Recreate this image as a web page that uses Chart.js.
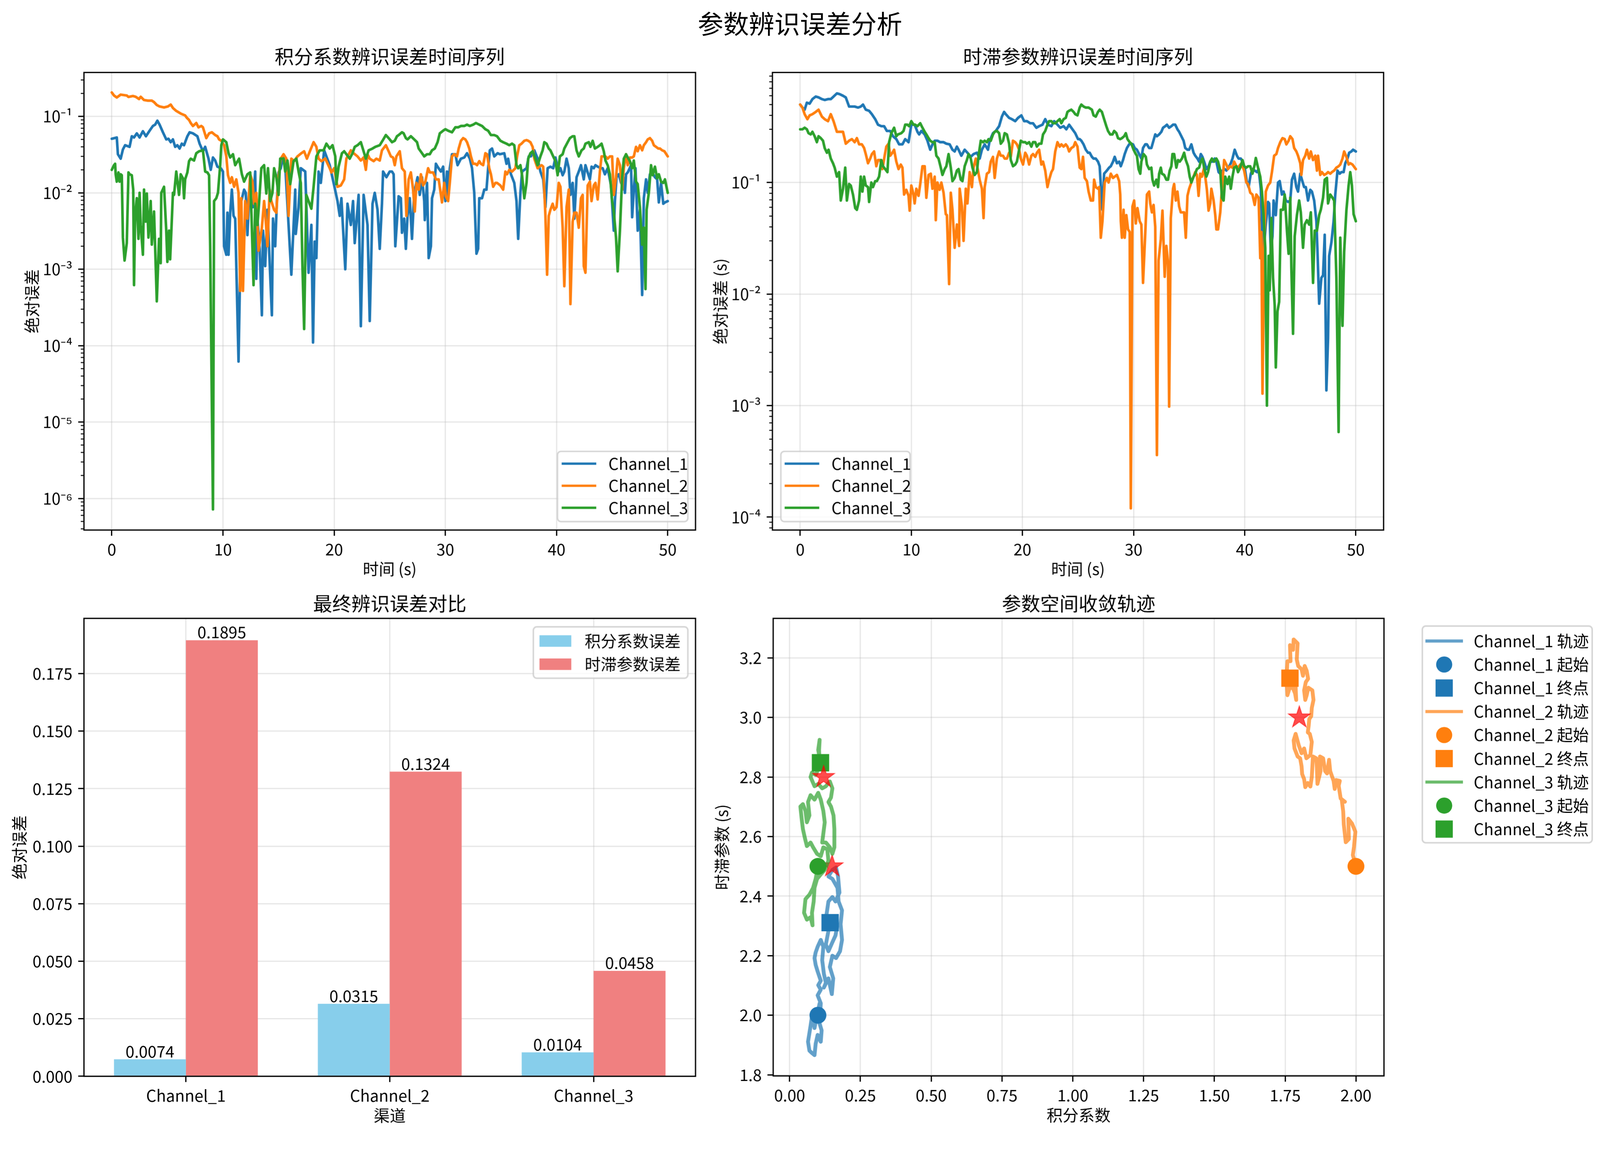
<!DOCTYPE html>
<html>
<head>
<meta charset="utf-8">
<script src="https://cdn.jsdelivr.net/npm/chart.js@4.4.0/dist/chart.umd.min.js"></script>
<style>
html, body { margin: 0; padding: 0; background: #fff; overflow: hidden; }
body { font-family: 'Noto Sans CJK SC', sans-serif; }
#page { position: absolute; left: 0; top: 0; width: 4174px; height: 2954px; transform-origin: 0 0; background: #fff; }
canvas { position: absolute; }
#suptitle { position: absolute; left: 0; top: 19px; width: 4174px; text-align: center; font-size: 66.7px; line-height: 80px; color: #000; }
</style>
</head>
<body>
<div id="page">
<div id="suptitle">参数辨识误差分析</div>
<canvas id="ki" width="1850" height="1412" style="left:0;top:100px;width:1850px;height:1412px"></canvas>
<canvas id="tau" width="2324" height="1412" style="left:1850px;top:100px;width:2324px;height:1412px"></canvas>
<canvas id="bars" width="1850" height="1413" style="left:0;top:1525px;width:1850px;height:1413px"></canvas>
<canvas id="traj" width="2324" height="1412" style="left:1850px;top:1525px;width:2324px;height:1412px"></canvas>
</div>
<script>
const CHANNELS = ['Channel_1', 'Channel_2', 'Channel_3'];
const COLORS = ['#1f77b4', '#ff7f0e', '#2ca02c'];
const TRAJ_COLORS = ['rgba(31,119,180,0.7)', 'rgba(255,127,14,0.7)', 'rgba(44,160,44,0.7)'];
const GRID = 'rgba(176,176,176,0.3)';

// tick values
const timeTicks = [0, 10, 20, 30, 40, 50];
const kiTicks = [0, 0.25, 0.5, 0.75, 1, 1.25, 1.5, 1.75, 2];
const tauTicks = [1.8, 2.0, 2.2, 2.4, 2.6, 2.8, 3.0, 3.2];
const barTicks = [0, 0.025, 0.05, 0.075, 0.1, 0.125, 0.15, 0.175];

// ki identification error, [time s, abs error]
const kiErrCh1 = [[0,0.051],[0.45,0.053],[0.55,0.032],[0.8,0.028],[1.0,0.037],[1.2,0.042],[1.6,0.040],[1.8,0.055],[2.0,0.053],[2.25,0.060],[2.5,0.053],[2.8,0.064],[3.07,0.055],[3.4,0.065],[3.7,0.075],[3.9,0.078],[4.1,0.088],[4.3,0.078],[4.6,0.062],[4.9,0.050],[5.1,0.051],[5.3,0.046],[5.5,0.050],[5.7,0.040],[5.9,0.042],[6.1,0.038],[6.3,0.044],[6.5,0.042],[6.8,0.055],[7.0,0.062],[7.3,0.060],[7.7,0.055],[7.9,0.044],[8.2,0.035],[8.4,0.040],[8.7,0.028],[8.9,0.020],[9.1,0.029],[9.3,0.0265],[9.5,0.022],[9.8,0.021],[10.0,0.019],[10.1,0.0020],[10.3,0.00155],[10.4,0.0055],[10.5,0.00155],[10.65,0.0055],[10.8,0.011],[10.95,0.0050],[11.1,0.0046],[11.4,0.000062],[11.65,0.0078],[11.9,0.011],[12.05,0.010],[12.2,0.0028],[12.35,0.0082],[12.7,0.0065],[12.9,0.019],[13.0,0.00075],[13.1,0.0046],[13.3,0.00185],[13.5,0.00025],[13.6,0.0032],[13.8,0.0011],[14.0,0.0060],[14.4,0.00025],[14.5,0.0046],[14.7,0.0020],[14.85,0.0078],[15.0,0.0185],[15.2,0.021],[15.4,0.030],[15.6,0.023],[16.15,0.00085],[16.5,0.011],[16.55,0.0029],[16.8,0.0065],[17.0,0.021],[17.4,0.019],[17.7,0.00090],[17.95,0.0038],[18.1,0.00011],[18.25,0.0023],[18.4,0.0014],[18.6,0.019],[18.8,0.0135],[19.1,0.036],[19.3,0.030],[19.6,0.023],[20.0,0.0125],[20.3,0.0078],[20.5,0.0050],[20.65,0.0085],[21.0,0.0010],[21.2,0.0072],[21.5,0.0038],[21.7,0.0078],[21.85,0.0022],[22.2,0.0094],[22.4,0.00018],[22.65,0.0094],[23.0,0.0038],[23.2,0.00021],[23.45,0.0072],[23.65,0.010],[23.9,0.0060],[24.1,0.00185],[24.3,0.0072],[24.4,0.019],[24.7,0.016],[25.0,0.019],[25.2,0.019],[25.35,0.0175],[25.5,0.0020],[25.8,0.0090],[26.0,0.0085],[26.1,0.0030],[26.3,0.0046],[26.45,0.00185],[26.6,0.0050],[26.8,0.0085],[27.0,0.0025],[27.2,0.010],[27.5,0.016],[27.7,0.0094],[27.9,0.016],[28.1,0.0078],[28.15,0.0044],[28.35,0.0135],[28.5,0.0014],[28.7,0.0020],[28.8,0.0085],[29.0,0.011],[29.15,0.024],[29.3,0.022],[29.6,0.019],[29.8,0.022],[30.0,0.0078],[30.15,0.019],[30.2,0.0085],[30.4,0.021],[30.6,0.032],[30.9,0.032],[31.1,0.023],[31.4,0.028],[31.7,0.029],[31.95,0.033],[32.2,0.028],[32.4,0.021],[32.6,0.010],[32.8,0.0016],[32.95,0.00185],[33.05,0.0085],[33.3,0.0085],[33.5,0.011],[33.7,0.011],[33.85,0.021],[34.0,0.036],[34.2,0.038],[34.4,0.030],[34.7,0.033],[34.9,0.032],[35.3,0.033],[35.5,0.024],[35.65,0.028],[35.9,0.0175],[36.2,0.0135],[36.4,0.0078],[36.55,0.0025],[36.75,0.010],[36.9,0.019],[37.3,0.021],[37.5,0.030],[37.7,0.030],[38.0,0.036],[38.3,0.028],[38.55,0.019],[38.8,0.015],[39.0,0.0065],[39.2,0.021],[39.45,0.022],[39.7,0.021],[39.9,0.029],[40.2,0.019],[40.35,0.021],[40.55,0.017],[40.7,0.019],[40.9,0.028],[41.1,0.021],[41.25,0.0094],[41.45,0.0135],[41.6,0.0046],[41.8,0.016],[42.0,0.019],[42.2,0.023],[42.45,0.015],[42.6,0.023],[42.8,0.0185],[43.0,0.015],[43.15,0.022],[43.35,0.021],[43.5,0.023],[43.7,0.022],[44.0,0.021],[44.15,0.021],[44.35,0.0175],[44.6,0.021],[44.9,0.0125],[45.15,0.0032],[45.25,0.0078],[45.4,0.016],[45.6,0.0175],[45.8,0.0135],[45.95,0.0185],[46.15,0.010],[46.25,0.0175],[46.4,0.0185],[46.7,0.023],[46.8,0.0048],[46.95,0.011],[47.1,0.021],[47.3,0.0032],[47.5,0.0060],[47.7,0.00046],[47.85,0.0085],[48.05,0.015],[48.2,0.010],[48.4,0.0175],[48.6,0.0185],[48.85,0.016],[49.05,0.015],[49.2,0.0075],[49.4,0.0135],[49.6,0.0072],[49.75,0.0075],[50.0,0.0078]];
const kiErrCh2 = [[0,0.206],[0.2,0.188],[0.45,0.177],[0.8,0.193],[1.35,0.188],[1.5,0.180],[1.9,0.185],[2.15,0.181],[2.45,0.169],[2.6,0.181],[2.9,0.164],[3.25,0.161],[3.6,0.161],[3.8,0.154],[4.05,0.141],[4.3,0.135],[4.7,0.131],[5.05,0.135],[5.3,0.143],[5.5,0.129],[5.8,0.118],[6.2,0.109],[6.6,0.103],[6.75,0.096],[6.95,0.090],[7.1,0.082],[7.3,0.075],[7.6,0.082],[7.8,0.072],[8.05,0.075],[8.2,0.072],[8.5,0.052],[8.75,0.060],[9.0,0.062],[9.3,0.057],[9.5,0.055],[9.65,0.050],[9.85,0.048],[10.1,0.042],[10.3,0.030],[10.45,0.017],[10.65,0.0135],[10.8,0.016],[11.0,0.012],[11.2,0.015],[11.4,0.010],[11.55,0.00052],[11.65,0.0085],[11.8,0.00052],[12.0,0.0078],[12.2,0.0046],[12.45,0.0175],[12.65,0.014],[12.8,0.0072],[13.0,0.010],[13.2,0.00175],[13.5,0.0035],[13.7,0.0078],[13.8,0.0055],[14.0,0.0020],[14.2,0.011],[14.35,0.0078],[14.6,0.0060],[14.8,0.0055],[15.0,0.016],[15.2,0.028],[15.45,0.032],[15.7,0.028],[15.9,0.0050],[16.15,0.028],[16.4,0.026],[16.7,0.030],[17.05,0.033],[17.3,0.035],[17.55,0.028],[17.85,0.036],[18.15,0.046],[18.4,0.040],[18.6,0.028],[18.85,0.026],[19.2,0.028],[19.6,0.021],[19.75,0.0185],[20.0,0.021],[20.3,0.012],[20.6,0.0125],[20.9,0.015],[21.1,0.028],[21.5,0.036],[21.75,0.033],[22.1,0.030],[22.4,0.0265],[22.65,0.029],[22.85,0.020],[23.0,0.032],[23.2,0.028],[23.55,0.026],[23.8,0.028],[24.1,0.0265],[24.3,0.036],[24.65,0.042],[24.9,0.035],[25.1,0.030],[25.3,0.029],[25.45,0.023],[25.6,0.030],[25.9,0.035],[26.1,0.021],[26.35,0.019],[26.5,0.0050],[26.7,0.015],[26.9,0.0185],[27.1,0.011],[27.25,0.0057],[27.4,0.0135],[27.6,0.011],[27.8,0.0175],[28.0,0.0125],[28.2,0.014],[28.45,0.021],[28.6,0.0185],[28.9,0.0185],[29.15,0.015],[29.4,0.015],[29.7,0.0075],[29.9,0.0135],[30.05,0.0090],[30.25,0.0078],[30.4,0.0135],[30.6,0.030],[30.8,0.032],[31.05,0.030],[31.2,0.038],[31.4,0.048],[31.6,0.052],[31.8,0.050],[31.95,0.046],[32.15,0.038],[32.3,0.030],[32.5,0.024],[32.7,0.024],[32.85,0.023],[33.05,0.026],[33.2,0.024],[33.4,0.023],[33.6,0.033],[33.75,0.032],[33.95,0.021],[34.1,0.0175],[34.3,0.012],[34.5,0.0135],[34.65,0.0135],[34.95,0.0125],[35.2,0.011],[35.4,0.019],[35.55,0.0175],[35.75,0.020],[36.0,0.019],[36.3,0.021],[36.45,0.030],[36.65,0.042],[36.85,0.044],[37.1,0.048],[37.3,0.049],[37.45,0.048],[37.65,0.046],[37.85,0.040],[38.0,0.028],[38.3,0.021],[38.45,0.022],[38.65,0.023],[38.8,0.022],[39.0,0.0050],[39.15,0.00085],[39.3,0.0050],[39.45,0.0060],[39.65,0.0072],[39.8,0.0060],[40.0,0.0065],[40.2,0.0135],[40.35,0.012],[40.55,0.0035],[40.7,0.00060],[40.9,0.0065],[41.1,0.011],[41.25,0.00035],[41.45,0.0042],[41.6,0.0055],[41.8,0.0055],[42.0,0.0035],[42.2,0.0085],[42.35,0.0094],[42.45,0.0011],[42.6,0.00090],[42.8,0.0125],[43.0,0.014],[43.15,0.0078],[43.35,0.0125],[43.5,0.0135],[43.7,0.0082],[43.9,0.019],[44.05,0.030],[44.25,0.030],[44.4,0.030],[44.6,0.028],[44.8,0.030],[45.0,0.030],[45.15,0.0094],[45.35,0.016],[45.5,0.028],[45.7,0.023],[45.9,0.011],[46.05,0.021],[46.25,0.032],[46.4,0.023],[46.6,0.029],[46.8,0.029],[46.95,0.030],[47.15,0.040],[47.3,0.035],[47.5,0.042],[47.7,0.036],[47.85,0.042],[48.05,0.046],[48.2,0.050],[48.4,0.052],[48.6,0.048],[48.75,0.042],[48.95,0.040],[49.15,0.038],[49.3,0.038],[49.5,0.036],[49.7,0.035],[50.0,0.030]];
const kiErrCh3 = [[0,0.020],[0.2,0.023],[0.3,0.024],[0.35,0.0175],[0.45,0.014],[0.6,0.0185],[0.7,0.014],[0.8,0.0175],[0.9,0.017],[1.0,0.0026],[1.15,0.0013],[1.35,0.0022],[1.5,0.0185],[1.6,0.0175],[1.8,0.017],[1.93,0.011],[2.0,0.00062],[2.1,0.0050],[2.25,0.0085],[2.4,0.0025],[2.5,0.010],[2.6,0.0038],[2.8,0.00155],[2.9,0.011],[3.05,0.0042],[3.15,0.0098],[3.3,0.0026],[3.5,0.0078],[3.6,0.0021],[3.8,0.0057],[4.05,0.00038],[4.25,0.0025],[4.4,0.0012],[4.45,0.010],[4.7,0.012],[4.9,0.0032],[5.0,0.00125],[5.15,0.0032],[5.25,0.00135],[5.4,0.0044],[5.5,0.010],[5.6,0.0094],[5.8,0.019],[6.05,0.0094],[6.2,0.0175],[6.4,0.0155],[6.5,0.0085],[6.6,0.015],[6.8,0.0185],[6.95,0.026],[7.1,0.028],[7.4,0.0265],[7.6,0.033],[7.85,0.035],[8.2,0.036],[8.4,0.019],[8.6,0.0185],[8.75,0.017],[8.85,0.0020],[9.1,7.2e-7],[9.2,0.0078],[9.4,0.0085],[9.55,0.010],[9.75,0.023],[9.85,0.042],[10.0,0.050],[10.3,0.046],[10.5,0.033],[10.65,0.029],[10.9,0.032],[11.1,0.023],[11.45,0.028],[11.7,0.0175],[11.9,0.014],[12.2,0.0175],[12.45,0.0185],[12.75,0.00062],[12.9,0.0072],[13.1,0.0038],[13.25,0.0075],[13.45,0.021],[13.7,0.023],[13.9,0.0098],[14.05,0.021],[14.25,0.0078],[14.45,0.010],[14.6,0.021],[14.8,0.016],[15.0,0.0094],[15.15,0.028],[15.45,0.028],[15.6,0.019],[15.8,0.0265],[16.05,0.013],[16.35,0.026],[16.6,0.028],[16.8,0.019],[17.0,0.0135],[17.15,0.0011],[17.3,0.000165],[17.5,0.0094],[17.95,0.0062],[18.15,0.012],[18.4,0.030],[18.7,0.036],[19.05,0.036],[19.3,0.044],[19.6,0.038],[19.85,0.042],[20.1,0.030],[20.2,0.013],[20.4,0.022],[20.7,0.033],[20.9,0.035],[21.1,0.032],[21.4,0.028],[21.65,0.033],[21.85,0.040],[22.1,0.042],[22.4,0.046],[22.65,0.035],[22.85,0.028],[23.1,0.036],[23.45,0.038],[23.7,0.040],[24.1,0.042],[24.35,0.048],[24.65,0.057],[24.9,0.052],[25.0,0.050],[25.2,0.046],[25.45,0.048],[25.65,0.055],[25.8,0.057],[26.1,0.062],[26.25,0.060],[26.45,0.052],[26.6,0.050],[26.9,0.055],[27.2,0.050],[27.45,0.046],[27.6,0.038],[27.9,0.033],[28.1,0.030],[28.35,0.032],[28.6,0.032],[28.8,0.036],[29.05,0.038],[29.3,0.046],[29.5,0.060],[29.8,0.065],[30.0,0.068],[30.25,0.065],[30.6,0.062],[30.9,0.072],[31.15,0.072],[31.4,0.075],[31.7,0.075],[31.95,0.078],[32.2,0.075],[32.5,0.078],[32.75,0.082],[33.05,0.078],[33.3,0.075],[33.6,0.068],[33.85,0.065],[34.1,0.057],[34.4,0.057],[34.65,0.055],[34.95,0.048],[35.2,0.046],[35.5,0.044],[35.75,0.042],[36.0,0.044],[36.2,0.042],[36.4,0.023],[36.55,0.021],[36.75,0.023],[36.9,0.017],[37.1,0.0085],[37.3,0.0135],[37.45,0.028],[37.65,0.033],[37.85,0.035],[38.1,0.028],[38.3,0.023],[38.55,0.030],[38.75,0.036],[38.9,0.046],[39.1,0.044],[39.3,0.038],[39.45,0.036],[39.7,0.030],[39.9,0.026],[40.1,0.017],[40.3,0.030],[40.55,0.032],[40.7,0.038],[41.0,0.046],[41.2,0.052],[41.45,0.055],[41.6,0.055],[41.8,0.036],[42.0,0.030],[42.25,0.036],[42.45,0.038],[42.6,0.044],[42.9,0.046],[43.05,0.040],[43.25,0.048],[43.45,0.038],[43.7,0.040],[43.9,0.042],[44.05,0.044],[44.25,0.035],[44.4,0.0265],[44.6,0.023],[44.8,0.0175],[45.0,0.0078],[45.15,0.0057],[45.35,0.0026],[45.5,0.00094],[45.7,0.0032],[45.9,0.016],[46.05,0.028],[46.25,0.032],[46.4,0.029],[46.6,0.026],[46.8,0.021],[46.95,0.0265],[47.15,0.014],[47.3,0.013],[47.5,0.0065],[47.7,0.0021],[47.85,0.0035],[48.0,0.00055],[48.1,0.0060],[48.3,0.010],[48.5,0.023],[48.65,0.017],[48.85,0.022],[49.05,0.0155],[49.2,0.0175],[49.4,0.014],[49.6,0.0135],[49.75,0.015],[50.0,0.010]];

// time delay identification error, [time s, abs error s]
const tauErrCh1 = [[0,0.50],[0.2,0.47],[0.4,0.45],[0.6,0.52],[0.85,0.51],[1.1,0.56],[1.4,0.59],[1.65,0.58],[1.95,0.56],[2.2,0.55],[2.5,0.56],[2.75,0.56],[3.0,0.59],[3.3,0.63],[3.55,0.62],[3.85,0.60],[4.1,0.58],[4.4,0.48],[4.65,0.48],[4.9,0.48],[5.2,0.47],[5.45,0.48],[5.65,0.50],[5.9,0.45],[6.2,0.44],[6.45,0.41],[6.75,0.37],[7.0,0.33],[7.3,0.32],[7.55,0.32],[7.8,0.29],[8.1,0.29],[8.35,0.26],[8.65,0.245],[8.9,0.22],[9.2,0.22],[9.45,0.245],[9.75,0.23],[10.0,0.33],[10.3,0.33],[10.55,0.285],[10.7,0.27],[10.9,0.29],[11.2,0.27],[11.45,0.237],[11.7,0.197],[11.9,0.22],[12.1,0.237],[12.35,0.237],[12.6,0.23],[12.9,0.23],[13.15,0.223],[13.45,0.22],[13.7,0.197],[13.9,0.19],[14.1,0.21],[14.25,0.197],[14.5,0.174],[14.8,0.197],[15.05,0.185],[15.35,0.17],[15.6,0.18],[15.9,0.185],[16.15,0.164],[16.35,0.197],[16.6,0.22],[16.9,0.197],[17.05,0.237],[17.35,0.277],[17.6,0.29],[17.9,0.32],[18.15,0.39],[18.35,0.43],[18.5,0.41],[18.8,0.38],[19.05,0.37],[19.35,0.355],[19.6,0.38],[19.9,0.40],[20.15,0.355],[20.4,0.355],[20.7,0.34],[20.95,0.34],[21.25,0.31],[21.5,0.32],[21.8,0.33],[22.05,0.37],[22.3,0.33],[22.6,0.32],[22.85,0.355],[23.15,0.33],[23.4,0.31],[23.7,0.32],[23.95,0.30],[24.2,0.33],[24.5,0.30],[24.75,0.277],[25.0,0.245],[25.15,0.245],[25.3,0.237],[25.5,0.22],[25.7,0.197],[25.9,0.185],[26.05,0.185],[26.25,0.17],[26.4,0.164],[26.6,0.164],[26.8,0.154],[26.95,0.14],[27.1,0.078],[27.2,0.057],[27.35,0.12],[27.6,0.128],[27.8,0.136],[27.95,0.14],[28.15,0.154],[28.3,0.17],[28.5,0.149],[28.7,0.154],[28.85,0.14],[29.05,0.159],[29.2,0.18],[29.4,0.204],[29.6,0.22],[29.75,0.223],[29.95,0.22],[30.1,0.204],[30.3,0.197],[30.5,0.18],[30.7,0.164],[30.85,0.204],[31.05,0.22],[31.2,0.22],[31.4,0.204],[31.6,0.204],[31.75,0.23],[31.95,0.27],[32.1,0.26],[32.3,0.27],[32.5,0.285],[32.65,0.31],[32.85,0.32],[33.0,0.33],[33.2,0.31],[33.4,0.32],[33.55,0.33],[33.75,0.33],[33.95,0.30],[34.1,0.285],[34.3,0.26],[34.5,0.237],[34.65,0.204],[34.85,0.197],[35.0,0.197],[35.2,0.22],[35.4,0.185],[35.55,0.174],[35.75,0.164],[35.9,0.154],[36.05,0.18],[36.2,0.17],[36.4,0.149],[36.55,0.132],[36.75,0.14],[36.9,0.154],[37.1,0.154],[37.3,0.164],[37.45,0.154],[37.65,0.124],[37.8,0.12],[38.0,0.128],[38.2,0.132],[38.35,0.128],[38.55,0.136],[38.75,0.149],[38.9,0.164],[39.1,0.197],[39.3,0.174],[39.45,0.164],[39.65,0.164],[39.8,0.154],[40.0,0.136],[40.2,0.100],[40.35,0.091],[40.55,0.12],[40.7,0.132],[40.9,0.128],[41.1,0.124],[41.25,0.132],[41.45,0.088],[41.6,0.029],[41.7,0.024],[41.9,0.042],[42.1,0.067],[42.2,0.065],[42.35,0.024],[42.5,0.033],[42.6,0.069],[42.8,0.051],[43.0,0.100],[43.15,0.103],[43.35,0.078],[43.5,0.083],[43.7,0.069],[43.9,0.067],[44.1,0.069],[44.25,0.106],[44.45,0.12],[44.65,0.091],[44.8,0.083],[45.0,0.12],[45.15,0.106],[45.35,0.091],[45.5,0.091],[45.7,0.069],[45.9,0.086],[46.05,0.083],[46.25,0.069],[46.45,0.045],[46.55,0.024],[46.7,0.0082],[46.9,0.014],[47.05,0.0147],[47.2,0.034],[47.35,0.00137],[47.5,0.0040],[47.6,0.022],[47.8,0.029],[48.0,0.045],[48.15,0.078],[48.35,0.128],[48.55,0.12],[48.7,0.124],[48.9,0.124],[49.05,0.149],[49.25,0.164],[49.4,0.185],[49.6,0.19],[49.75,0.197],[50.0,0.19]];
const tauErrCh2 = [[0,0.50],[0.2,0.47],[0.4,0.41],[0.65,0.37],[0.85,0.40],[1.1,0.41],[1.4,0.43],[1.65,0.45],[1.95,0.39],[2.2,0.37],[2.5,0.355],[2.75,0.41],[3.0,0.355],[3.3,0.285],[3.55,0.285],[3.85,0.285],[4.1,0.223],[4.4,0.237],[4.65,0.245],[4.9,0.23],[5.1,0.25],[5.3,0.22],[5.55,0.22],[5.75,0.204],[5.9,0.18],[6.1,0.149],[6.3,0.164],[6.45,0.18],[6.65,0.19],[6.85,0.14],[7.0,0.159],[7.2,0.159],[7.4,0.132],[7.6,0.174],[7.75,0.21],[7.95,0.223],[8.1,0.174],[8.3,0.185],[8.45,0.197],[8.65,0.154],[8.85,0.132],[9.05,0.145],[9.2,0.136],[9.35,0.078],[9.55,0.086],[9.75,0.076],[9.85,0.056],[10.0,0.094],[10.2,0.078],[10.3,0.065],[10.45,0.088],[10.65,0.076],[10.8,0.097],[11.0,0.14],[11.2,0.14],[11.35,0.073],[11.55,0.117],[11.75,0.12],[11.9,0.088],[12.1,0.113],[12.2,0.046],[12.35,0.100],[12.55,0.086],[12.7,0.100],[12.9,0.081],[13.1,0.052],[13.2,0.051],[13.4,0.0123],[13.55,0.081],[13.7,0.057],[13.9,0.026],[14.1,0.042],[14.3,0.027],[14.35,0.088],[14.55,0.061],[14.7,0.030],[14.9,0.088],[15.05,0.065],[15.25,0.124],[15.45,0.091],[15.6,0.136],[15.8,0.164],[15.95,0.136],[16.15,0.106],[16.35,0.088],[16.5,0.048],[16.6,0.091],[16.8,0.12],[17.0,0.124],[17.15,0.154],[17.35,0.17],[17.5,0.11],[17.7,0.164],[17.9,0.19],[18.05,0.174],[18.25,0.174],[18.4,0.164],[18.6,0.164],[18.8,0.185],[18.95,0.17],[19.15,0.237],[19.35,0.23],[19.5,0.22],[19.7,0.197],[19.85,0.164],[20.05,0.145],[20.25,0.185],[20.4,0.174],[20.6,0.145],[20.8,0.174],[20.95,0.18],[21.15,0.17],[21.3,0.185],[21.5,0.197],[21.7,0.145],[21.85,0.154],[22.05,0.128],[22.25,0.091],[22.4,0.106],[22.6,0.124],[22.75,0.132],[22.95,0.19],[23.15,0.23],[23.35,0.21],[23.5,0.22],[23.7,0.21],[23.9,0.22],[24.05,0.21],[24.2,0.19],[24.4,0.204],[24.6,0.21],[24.75,0.23],[24.95,0.21],[25.15,0.136],[25.3,0.132],[25.45,0.17],[25.6,0.11],[25.8,0.103],[25.95,0.083],[26.15,0.069],[26.35,0.069],[26.45,0.106],[26.6,0.091],[26.8,0.088],[26.9,0.091],[27.05,0.032],[27.2,0.045],[27.4,0.100],[27.6,0.11],[27.75,0.100],[27.95,0.12],[28.15,0.11],[28.3,0.113],[28.5,0.117],[28.7,0.103],[28.8,0.078],[28.85,0.045],[28.95,0.032],[29.1,0.057],[29.2,0.032],[29.35,0.051],[29.5,0.038],[29.65,0.036],[29.75,0.00012],[29.9,0.061],[30.05,0.069],[30.2,0.043],[30.35,0.059],[30.55,0.045],[30.7,0.042],[30.85,0.0126],[31.05,0.035],[31.2,0.078],[31.4,0.083],[31.5,0.065],[31.65,0.054],[31.8,0.063],[31.95,0.040],[32.1,0.00036],[32.25,0.020],[32.45,0.031],[32.6,0.056],[32.8,0.0143],[32.95,0.027],[33.1,0.019],[33.2,0.00098],[33.35,0.048],[33.55,0.088],[33.65,0.097],[33.8,0.069],[33.95,0.083],[34.1,0.061],[34.25,0.054],[34.4,0.054],[34.55,0.054],[34.7,0.032],[34.85,0.076],[35.0,0.088],[35.15,0.097],[35.35,0.11],[35.55,0.124],[35.7,0.117],[35.85,0.076],[36.0,0.12],[36.15,0.113],[36.35,0.136],[36.45,0.113],[36.6,0.086],[36.75,0.056],[36.9,0.065],[37.0,0.088],[37.2,0.069],[37.35,0.051],[37.45,0.038],[37.6,0.038],[37.8,0.054],[37.95,0.088],[38.15,0.159],[38.35,0.145],[38.5,0.132],[38.7,0.14],[38.9,0.136],[39.05,0.154],[39.25,0.14],[39.4,0.136],[39.6,0.145],[39.8,0.14],[39.95,0.128],[40.15,0.100],[40.3,0.097],[40.5,0.081],[40.7,0.078],[40.9,0.063],[41.05,0.078],[41.25,0.073],[41.4,0.021],[41.5,0.036],[41.6,0.00128],[41.75,0.026],[41.9,0.083],[42.1,0.094],[42.3,0.100],[42.45,0.124],[42.65,0.174],[42.85,0.18],[43.0,0.204],[43.2,0.23],[43.4,0.25],[43.6,0.245],[43.75,0.22],[43.95,0.237],[44.1,0.26],[44.3,0.245],[44.45,0.204],[44.65,0.19],[44.8,0.174],[45.0,0.149],[45.1,0.117],[45.25,0.159],[45.45,0.174],[45.6,0.197],[45.8,0.164],[45.95,0.19],[46.15,0.159],[46.35,0.174],[46.5,0.128],[46.6,0.174],[46.8,0.117],[46.95,0.124],[47.15,0.117],[47.35,0.12],[47.5,0.124],[47.7,0.12],[47.85,0.124],[48.05,0.128],[48.25,0.136],[48.45,0.14],[48.6,0.145],[48.8,0.164],[48.95,0.19],[49.15,0.17],[49.35,0.145],[49.5,0.149],[49.7,0.145],[49.9,0.136],[50.0,0.132]];
const tauErrCh3 = [[0,0.30],[0.2,0.30],[0.4,0.31],[0.6,0.30],[0.75,0.277],[0.95,0.27],[1.1,0.285],[1.3,0.26],[1.5,0.23],[1.65,0.26],[1.85,0.25],[2.05,0.237],[2.2,0.204],[2.4,0.185],[2.55,0.197],[2.75,0.164],[2.95,0.149],[3.1,0.136],[3.3,0.113],[3.5,0.124],[3.65,0.069],[3.85,0.088],[4.05,0.136],[4.2,0.069],[4.4,0.097],[4.55,0.094],[4.75,0.078],[4.95,0.059],[5.1,0.057],[5.3,0.069],[5.45,0.113],[5.6,0.083],[5.75,0.113],[5.9,0.094],[6.1,0.091],[6.2,0.067],[6.4,0.100],[6.55,0.091],[6.75,0.103],[6.9,0.103],[7.1,0.113],[7.3,0.159],[7.45,0.14],[7.65,0.132],[7.85,0.124],[8.0,0.23],[8.2,0.277],[8.45,0.31],[8.65,0.26],[8.8,0.27],[9.1,0.277],[9.3,0.29],[9.45,0.33],[9.65,0.33],[9.8,0.32],[10.0,0.355],[10.2,0.33],[10.35,0.33],[10.55,0.32],[10.8,0.34],[11.0,0.31],[11.2,0.285],[11.35,0.27],[11.55,0.25],[11.7,0.237],[11.9,0.23],[12.1,0.23],[12.25,0.174],[12.45,0.164],[12.65,0.136],[12.8,0.117],[13.0,0.132],[13.15,0.14],[13.35,0.18],[13.55,0.136],[13.7,0.103],[13.9,0.11],[14.1,0.128],[14.25,0.132],[14.45,0.106],[14.6,0.103],[14.8,0.14],[15.0,0.159],[15.15,0.18],[15.35,0.164],[15.5,0.136],[15.7,0.117],[15.9,0.124],[16.05,0.174],[16.25,0.237],[16.45,0.23],[16.6,0.237],[16.8,0.23],[16.95,0.245],[17.15,0.237],[17.35,0.27],[17.5,0.285],[17.7,0.29],[17.9,0.277],[18.05,0.223],[18.25,0.237],[18.4,0.277],[18.6,0.27],[18.8,0.223],[18.95,0.159],[19.15,0.14],[19.35,0.145],[19.5,0.154],[19.7,0.197],[19.85,0.237],[20.05,0.23],[20.25,0.23],[20.4,0.223],[20.6,0.23],[20.8,0.21],[20.95,0.23],[21.15,0.23],[21.3,0.21],[21.5,0.223],[21.7,0.223],[21.85,0.27],[22.05,0.29],[22.25,0.33],[22.4,0.355],[22.6,0.355],[22.75,0.34],[22.95,0.34],[23.15,0.355],[23.35,0.37],[23.5,0.34],[23.7,0.37],[23.9,0.38],[24.05,0.43],[24.2,0.44],[24.4,0.45],[24.6,0.43],[24.75,0.41],[24.95,0.40],[25.15,0.47],[25.3,0.50],[25.5,0.48],[25.7,0.47],[25.95,0.47],[26.25,0.45],[26.4,0.40],[26.6,0.39],[26.8,0.43],[26.95,0.45],[27.15,0.43],[27.35,0.37],[27.55,0.32],[27.7,0.29],[27.9,0.27],[28.1,0.27],[28.25,0.29],[28.45,0.277],[28.6,0.25],[28.8,0.245],[28.95,0.25],[29.15,0.26],[29.3,0.277],[29.45,0.245],[29.65,0.23],[29.8,0.223],[30.0,0.197],[30.2,0.18],[30.3,0.174],[30.45,0.132],[30.6,0.12],[30.7,0.154],[30.9,0.18],[31.1,0.17],[31.2,0.145],[31.4,0.132],[31.6,0.136],[31.7,0.106],[31.85,0.094],[32.05,0.106],[32.2,0.091],[32.3,0.12],[32.45,0.136],[32.55,0.12],[32.75,0.117],[32.95,0.106],[33.1,0.106],[33.25,0.128],[33.4,0.14],[33.5,0.18],[33.65,0.18],[33.85,0.136],[34.0,0.159],[34.15,0.154],[34.35,0.164],[34.55,0.185],[34.7,0.159],[34.9,0.14],[35.05,0.113],[35.2,0.100],[35.4,0.113],[35.5,0.117],[35.7,0.132],[35.9,0.136],[36.05,0.154],[36.2,0.164],[36.35,0.136],[36.55,0.113],[36.7,0.124],[36.9,0.154],[37.05,0.164],[37.25,0.154],[37.45,0.164],[37.6,0.154],[37.8,0.128],[37.95,0.073],[38.1,0.069],[38.25,0.113],[38.45,0.097],[38.6,0.113],[38.75,0.088],[38.9,0.113],[39.05,0.136],[39.25,0.14],[39.4,0.124],[39.6,0.136],[39.8,0.159],[39.95,0.14],[40.15,0.136],[40.3,0.14],[40.5,0.14],[40.7,0.12],[40.9,0.145],[41.0,0.166],[41.2,0.136],[41.4,0.113],[41.55,0.083],[41.7,0.051],[41.85,0.026],[42.0,0.0010],[42.15,0.022],[42.25,0.0108],[42.4,0.048],[42.55,0.014],[42.7,0.0079],[42.8,0.0022],[42.95,0.0070],[43.1,0.0085],[43.2,0.029],[43.25,0.057],[43.45,0.057],[43.6,0.078],[43.8,0.037],[43.95,0.023],[44.1,0.073],[44.2,0.0172],[44.35,0.0044],[44.5,0.033],[44.7,0.051],[44.9,0.069],[45.05,0.054],[45.25,0.026],[45.4,0.042],[45.6,0.046],[45.8,0.042],[45.95,0.054],[46.15,0.0126],[46.3,0.037],[46.5,0.037],[46.7,0.051],[46.85,0.057],[47.05,0.073],[47.2,0.106],[47.4,0.11],[47.5,0.065],[47.7,0.078],[47.9,0.073],[48.05,0.069],[48.25,0.014],[48.45,0.00058],[48.6,0.032],[48.8,0.0052],[48.95,0.024],[49.15,0.056],[49.35,0.094],[49.5,0.124],[49.65,0.094],[49.8,0.052],[50.0,0.045]];

// final errors per channel
const barCategories = ['Channel_1', 'Channel_2', 'Channel_3'];
const barSeriesNames = ['积分系数误差', '时滞参数误差'];
const finalKiErr = [0.0074, 0.0315, 0.0104];
const finalTauErr = [0.1895, 0.1324, 0.0458];

// parameter trajectories, [ki, tau]
const trajCh1 = [[0.100,2.000],[0.106,2.040],[0.094,1.987],[0.088,1.957],[0.081,2.010],[0.074,1.964],[0.065,1.911],[0.070,1.881],[0.079,1.873],[0.088,1.866],[0.092,1.904],[0.099,1.934],[0.110,1.911],[0.113,1.949],[0.106,1.972],[0.110,2.040],[0.099,2.067],[0.110,2.086],[0.101,2.101],[0.110,2.116],[0.099,2.147],[0.092,2.169],[0.088,2.192],[0.092,2.211],[0.099,2.230],[0.110,2.253],[0.119,2.230],[0.115,2.185],[0.121,2.139],[0.128,2.109],[0.121,2.093],[0.137,2.124],[0.149,2.071],[0.154,2.124],[0.142,2.162],[0.151,2.200],[0.164,2.192],[0.178,2.215],[0.185,2.253],[0.180,2.306],[0.185,2.352],[0.173,2.382],[0.169,2.428],[0.160,2.443],[0.151,2.458],[0.137,2.466],[0.151,2.488],[0.164,2.496],[0.171,2.466],[0.176,2.412],[0.162,2.382],[0.151,2.397],[0.137,2.382],[0.130,2.336],[0.137,2.283],[0.128,2.238],[0.137,2.215],[0.151,2.245],[0.162,2.268],[0.169,2.306],[0.155,2.321],[0.143,2.311]];
const trajCh2 = [[2.000,2.500],[1.989,2.538],[1.993,2.565],[1.998,2.616],[1.986,2.644],[1.973,2.660],[1.975,2.592],[1.964,2.581],[1.957,2.641],[1.955,2.684],[1.950,2.722],[1.961,2.717],[1.946,2.728],[1.939,2.771],[1.943,2.787],[1.930,2.790],[1.925,2.760],[1.921,2.787],[1.909,2.820],[1.905,2.858],[1.898,2.812],[1.891,2.820],[1.884,2.863],[1.873,2.869],[1.875,2.820],[1.864,2.777],[1.862,2.832],[1.860,2.863],[1.848,2.869],[1.844,2.800],[1.839,2.768],[1.830,2.780],[1.821,2.766],[1.817,2.793],[1.810,2.810],[1.808,2.836],[1.803,2.863],[1.794,2.869],[1.783,2.896],[1.780,2.923],[1.787,2.945],[1.798,2.907],[1.808,2.880],[1.817,2.896],[1.825,2.863],[1.839,2.874],[1.844,2.918],[1.837,2.945],[1.830,2.950],[1.833,2.972],[1.835,2.994],[1.842,3.005],[1.844,3.032],[1.850,3.059],[1.846,3.091],[1.832,3.100],[1.826,3.075],[1.821,3.059],[1.817,3.091],[1.823,3.119],[1.831,3.130],[1.826,3.157],[1.819,3.173],[1.813,3.140],[1.808,3.162],[1.796,3.173],[1.791,3.195],[1.794,3.249],[1.780,3.262],[1.778,3.227],[1.767,3.243],[1.769,3.189],[1.758,3.189],[1.755,3.135],[1.758,3.075],[1.765,3.097],[1.776,3.102],[1.785,3.081],[1.789,3.059],[1.787,3.102],[1.782,3.119],[1.767,3.132]];
const trajCh3 = [[0.100,2.500],[0.092,2.458],[0.083,2.428],[0.070,2.405],[0.056,2.390],[0.051,2.344],[0.061,2.321],[0.074,2.329],[0.081,2.302],[0.079,2.344],[0.085,2.382],[0.088,2.428],[0.097,2.458],[0.110,2.473],[0.124,2.488],[0.137,2.519],[0.133,2.557],[0.119,2.564],[0.110,2.534],[0.097,2.542],[0.083,2.564],[0.074,2.580],[0.061,2.568],[0.054,2.595],[0.047,2.625],[0.043,2.656],[0.038,2.701],[0.047,2.709],[0.056,2.686],[0.061,2.648],[0.070,2.671],[0.065,2.716],[0.074,2.739],[0.088,2.724],[0.101,2.747],[0.110,2.724],[0.119,2.686],[0.124,2.648],[0.119,2.610],[0.115,2.580],[0.128,2.580],[0.142,2.564],[0.151,2.542],[0.158,2.564],[0.158,2.625],[0.155,2.671],[0.146,2.701],[0.137,2.716],[0.146,2.731],[0.151,2.762],[0.142,2.785],[0.128,2.769],[0.115,2.762],[0.101,2.777],[0.088,2.769],[0.074,2.800],[0.079,2.815],[0.092,2.807],[0.106,2.838],[0.104,2.891],[0.106,2.925],[0.101,2.891],[0.109,2.848]];
const startPts = [[0.10, 2.0], [2.0, 2.5], [0.10, 2.5]];
const endPts = [[0.143, 2.311], [1.767, 3.132], [0.109, 2.848]];
const truePts = [[0.15, 2.5], [1.8, 3.0], [0.12, 2.8]];

// axis limits
const kiErrRange = [3.86e-7, 0.376];
const tauErrRange = [7.66e-5, 0.970];
const timeRange = [-2.5, 52.5];
const kiRange = [-0.058, 2.099];
const tauRange = [1.7962, 3.3328];
const barMax = 0.19898;

// fit the 4174x2954 layout into whatever CSS viewport we get
const FIT = Math.min(window.innerWidth / 4174, window.innerHeight / 2954) || 1;
document.getElementById('page').style.transform = 'scale(' + FIT + ')';
const PIXEL_RATIO = (window.devicePixelRatio || 1) * FIT;

Chart.defaults.font.family = "'Noto Sans CJK SC', sans-serif";
Chart.defaults.font.size = 41.7;
Chart.defaults.color = '#000';

const SUP = {'-': '⁻', '0': '⁰', '1': '¹', '2': '²', '3': '³', '4': '⁴', '5': '⁵', '6': '⁶', '7': '⁷', '8': '⁸', '9': '⁹'};

function isDecade(v) {
    const l = Math.log10(v);
    return Math.abs(l - Math.round(l)) < 1e-6;
}

function powLabel(v) {
    const e = String(Math.round(Math.log10(v)));
    return '10' + e.split('').map(c => SUP[c]).join('');
}

function logTicks(min, max) {
    const out = [];
    for (let k = Math.floor(Math.log10(min)); k <= Math.ceil(Math.log10(max)); k++) {
        for (let m = 1; m <= 9; m++) {
            const v = m * Math.pow(10, k);
            if (v >= min && v <= max) out.push(v);
        }
    }
    return out;
}

function toXY(pairs) {
    return pairs.map(p => ({x: p[0], y: p[1]}));
}

function baseAxis(title, tickPad) {
    return {
        border: {display: false},
        grid: {color: GRID, lineWidth: 3.3, tickColor: '#000', tickWidth: 3.3, tickLength: 15},
        ticks: {padding: tickPad, autoSkip: false, maxRotation: 0, minRotation: 0, color: '#000'},
        title: {display: true, text: title, color: '#000', padding: {top: 4, bottom: 4}}
    };
}

function fixedTicks(values) {
    return s => { s.ticks = values.map(v => ({value: v})); };
}

function titleOpts(text, padTop, padBottom) {
    return {display: true, text: text, fullSize: false, color: '#000',
            font: {size: 50, weight: 'normal'}, padding: {top: padTop, bottom: padBottom}};
}

// spines + minor log ticks
const framePlugin = {
    id: 'frame',
    afterDatasetsDraw(chart) {
        const ctx = chart.ctx, a = chart.chartArea;
        ctx.save();
        const y = chart.scales.y;
        if (y.type === 'logarithmic') {
            ctx.strokeStyle = '#000';
            ctx.lineWidth = 2.5;
            y.ticks.forEach(t => {
                if (isDecade(t.value)) return;
                const py = y.getPixelForValue(t.value);
                ctx.beginPath();
                ctx.moveTo(a.left - 8.3, py);
                ctx.lineTo(a.left, py);
                ctx.stroke();
            });
        }
        ctx.strokeStyle = '#000';
        ctx.lineWidth = 3.3;
        ctx.strokeRect(a.left, a.top, a.right - a.left, a.bottom - a.top);
        ctx.restore();
    }
};

function roundRectPath(ctx, x, y, w, h, r) {
    ctx.beginPath();
    ctx.moveTo(x + r, y);
    ctx.arcTo(x + w, y, x + w, y + h, r);
    ctx.arcTo(x + w, y + h, x, y + h, r);
    ctx.arcTo(x, y + h, x, y, r);
    ctx.arcTo(x, y, x + w, y, r);
    ctx.closePath();
}

function boxLegend(cfg) {
    return {
        id: 'boxLegend',
        afterDraw(chart) {
            const ctx = chart.ctx;
            ctx.save();
            roundRectPath(ctx, cfg.x, cfg.y, cfg.w, cfg.h, 9);
            ctx.fillStyle = 'rgba(255,255,255,0.8)';
            ctx.fill();
            ctx.lineWidth = 4;
            ctx.strokeStyle = 'rgba(204,204,204,0.8)';
            ctx.stroke();
            ctx.font = "41.7px 'Noto Sans CJK SC', sans-serif";
            ctx.textBaseline = 'middle';
            ctx.textAlign = 'left';
            cfg.items.forEach((it, i) => {
                const cy = cfg.y + cfg.first + i * cfg.step;
                const x0 = cfg.x + cfg.hx, x1 = x0 + cfg.hw, xm = (x0 + x1) / 2;
                ctx.fillStyle = it.color;
                ctx.strokeStyle = it.color;
                if (it.kind === 'line') {
                    ctx.lineWidth = it.width;
                    ctx.lineCap = 'square';
                    ctx.beginPath();
                    ctx.moveTo(x0, cy);
                    ctx.lineTo(x1, cy);
                    ctx.stroke();
                } else if (it.kind === 'patch') {
                    ctx.fillRect(x0, cy - 15, cfg.hw, 30);
                } else if (it.kind === 'circle') {
                    ctx.beginPath();
                    ctx.arc(xm, cy, 21, 0, Math.PI * 2);
                    ctx.fill();
                } else if (it.kind === 'square') {
                    ctx.fillRect(xm - 22.5, cy - 22.5, 45, 45);
                }
                ctx.fillStyle = '#000';
                ctx.fillText(it.text, cfg.x + cfg.tx, cy);
            });
            ctx.restore();
        }
    };
}

function lineItems() {
    return CHANNELS.map((c, i) => ({kind: 'line', color: COLORS[i], width: 6.25, text: c}));
}

function errorChart(id, title, yTitle, series, yRange, padLeft, padRight, legendCfg) {
    const yAxis = baseAxis(yTitle, 15);
    yAxis.type = 'logarithmic';
    yAxis.min = yRange[0];
    yAxis.max = yRange[1];
    yAxis.afterBuildTicks = fixedTicks(logTicks(yRange[0], yRange[1]));
    yAxis.grid.color = c => (c.tick && isDecade(c.tick.value)) ? GRID : 'rgba(0,0,0,0)';
    yAxis.grid.tickColor = c => (c.tick && isDecade(c.tick.value)) ? '#000' : 'rgba(0,0,0,0)';
    yAxis.ticks.callback = v => isDecade(v) ? powLabel(v) : '';
    yAxis.afterFit = s => { s.width = 165; };

    const xAxis = baseAxis('时间 (s)', 10);
    xAxis.type = 'linear';
    xAxis.min = timeRange[0];
    xAxis.max = timeRange[1];
    xAxis.afterBuildTicks = fixedTicks(timeTicks);
    xAxis.ticks.callback = v => String(v);
    xAxis.afterFit = s => { s.height = 130; };

    legendCfg.items = lineItems();
    new Chart(document.getElementById(id), {
        type: 'line',
        data: {
            datasets: series.map((s, i) => ({
                label: CHANNELS[i],
                data: toXY(s),
                borderColor: COLORS[i],
                backgroundColor: COLORS[i],
                borderWidth: 6.8,
                pointRadius: 0,
                tension: 0,
                borderJoinStyle: 'round',
                borderCapStyle: 'round',
                order: series.length - i
            }))
        },
        options: {
            responsive: false, animation: false, devicePixelRatio: PIXEL_RATIO, events: [],
            layout: {padding: {left: padLeft, right: padRight, top: 0, bottom: 0}},
            plugins: {legend: {display: false}, tooltip: {enabled: false}, title: titleOpts(title, 17, 12)},
            scales: {x: xAxis, y: yAxis}
        },
        plugins: [framePlugin, boxLegend(legendCfg)]
    });
}

errorChart('ki', '积分系数辨识误差时间序列', '绝对误差', [kiErrCh1, kiErrCh2, kiErrCh3], kiErrRange, 54, 36,
    {x: 1454, y: 1077, w: 340, h: 183, first: 32, step: 57.5, hx: 14, hw: 84, tx: 133});
errorChart('tau', '时滞参数辨识误差时间序列', '绝对误差 (s)', [tauErrCh1, tauErrCh2, tauErrCh3], tauErrRange, 0, 565,
    {x: 187, y: 1077, w: 337, h: 183, first: 32, step: 57.5, hx: 13, hw: 84, tx: 132});

// final error bars
const barLabelPlugin = {
    id: 'barLabels',
    afterDatasetsDraw(chart) {
        const ctx = chart.ctx;
        ctx.save();
        ctx.font = "41.7px 'Noto Sans CJK SC', sans-serif";
        ctx.textAlign = 'center';
        ctx.textBaseline = 'bottom';
        ctx.fillStyle = '#000';
        chart.data.datasets.forEach((ds, i) => {
            chart.getDatasetMeta(i).data.forEach((bar, j) => {
                ctx.fillText(ds.data[j].toFixed(4), bar.x, bar.y);
            });
        });
        ctx.restore();
    }
};

(function () {
    const xAxis = baseAxis('渠道', 10);
    xAxis.type = 'category';
    xAxis.offset = true;
    xAxis.grid.offset = false;
    xAxis.afterFit = s => { s.height = 131; };
    const yAxis = baseAxis('绝对误差', 15);
    yAxis.type = 'linear';
    yAxis.min = 0;
    yAxis.max = barMax;
    yAxis.afterBuildTicks = fixedTicks(barTicks);
    yAxis.ticks.callback = v => v.toFixed(3);
    yAxis.afterFit = s => { s.width = 198; };

    new Chart(document.getElementById('bars'), {
        type: 'bar',
        data: {
            labels: barCategories,
            datasets: [
                {label: barSeriesNames[0], data: finalKiErr, backgroundColor: '#87ceeb', borderWidth: 0,
                 categoryPercentage: 0.7057, barPercentage: 1.0},
                {label: barSeriesNames[1], data: finalTauErr, backgroundColor: '#f08080', borderWidth: 0,
                 categoryPercentage: 0.7057, barPercentage: 1.0}
            ]
        },
        options: {
            responsive: false, animation: false, devicePixelRatio: PIXEL_RATIO, events: [],
            layout: {padding: {left: 21, right: 36, top: 0, bottom: 0}},
            plugins: {legend: {display: false}, tooltip: {enabled: false}, title: titleOpts('最终辨识误差对比', 19, 9)},
            scales: {x: xAxis, y: yAxis}
        },
        plugins: [barLabelPlugin, framePlugin, boxLegend({
            x: 1391, y: 110, w: 403, h: 134, first: 37, step: 60.5, hx: 16, hw: 83, tx: 134,
            items: [
                {kind: 'patch', color: '#87ceeb', text: barSeriesNames[0]},
                {kind: 'patch', color: '#f08080', text: barSeriesNames[1]}
            ]
        })]
    });
})();

// parameter space trajectories
function starImage(r, fill) {
    const c = document.createElement('canvas');
    const s = Math.ceil(2 * r + 6);
    c.width = s;
    c.height = s;
    const g = c.getContext('2d');
    g.translate(s / 2, s / 2);
    g.beginPath();
    for (let i = 0; i < 10; i++) {
        const rr = i % 2 ? r * 0.382 : r;
        const a = -Math.PI / 2 + i * Math.PI / 5;
        g.lineTo(rr * Math.cos(a), rr * Math.sin(a));
    }
    g.closePath();
    g.fillStyle = fill;
    g.fill();
    g.lineWidth = 2;
    g.strokeStyle = fill;
    g.stroke();
    return c;
}

(function () {
    const star = starImage(30, 'rgba(255,0,0,0.7)');
    const trajs = [trajCh1, trajCh2, trajCh3];
    const datasets = [];
    const legendItems = [];
    trajs.forEach((t, i) => {
        datasets.push({label: CHANNELS[i] + ' 轨迹', data: toXY(t), showLine: true, pointRadius: 0,
                       borderColor: TRAJ_COLORS[i], borderWidth: 10, borderJoinStyle: 'round', borderCapStyle: 'round'});
        datasets.push({label: CHANNELS[i] + ' 起始', data: toXY([startPts[i]]), pointStyle: 'circle', pointRadius: 22,
                       backgroundColor: COLORS[i], borderColor: COLORS[i], pointBorderWidth: 0});
        datasets.push({label: CHANNELS[i] + ' 终点', data: toXY([endPts[i]]), pointStyle: 'rect', pointRadius: 32,
                       backgroundColor: COLORS[i], borderColor: COLORS[i], pointBorderWidth: 0});
        datasets.push({label: '', data: toXY([truePts[i]]), pointStyle: star, pointRadius: 28,
                       backgroundColor: 'rgba(255,0,0,0.7)', borderColor: 'rgba(255,0,0,0.7)'});
        legendItems.push({kind: 'line', color: TRAJ_COLORS[i], width: 8, text: CHANNELS[i] + ' 轨迹'});
        legendItems.push({kind: 'circle', color: COLORS[i], text: CHANNELS[i] + ' 起始'});
        legendItems.push({kind: 'square', color: COLORS[i], text: CHANNELS[i] + ' 终点'});
    });
    datasets.forEach((d, i) => { d.order = datasets.length - i; });

    const xAxis = baseAxis('积分系数', 10);
    xAxis.type = 'linear';
    xAxis.min = kiRange[0];
    xAxis.max = kiRange[1];
    xAxis.afterBuildTicks = fixedTicks(kiTicks);
    xAxis.ticks.callback = v => v.toFixed(2);
    xAxis.afterFit = s => { s.height = 131; };
    const yAxis = baseAxis('时滞参数 (s)', 15);
    yAxis.type = 'linear';
    yAxis.min = tauRange[0];
    yAxis.max = tauRange[1];
    yAxis.afterBuildTicks = fixedTicks(tauTicks);
    yAxis.ticks.callback = v => v.toFixed(1);
    yAxis.afterFit = s => { s.width = 163; };

    new Chart(document.getElementById('traj'), {
        type: 'scatter',
        data: {datasets: datasets},
        options: {
            responsive: false, animation: false, devicePixelRatio: PIXEL_RATIO, events: [],
            layout: {padding: {left: 4, right: 564, top: 0, bottom: 0}},
            plugins: {legend: {display: false}, tooltip: {enabled: false}, title: titleOpts('参数空间收敛轨迹', 19, 9)},
            scales: {x: xAxis, y: yAxis}
        },
        plugins: [framePlugin, boxLegend({
            x: 1860, y: 108, w: 443, h: 565, first: 39, step: 61.3, hx: 12, hw: 90, tx: 134,
            items: legendItems
        })]
    });
})();
</script>
</body>
</html>
